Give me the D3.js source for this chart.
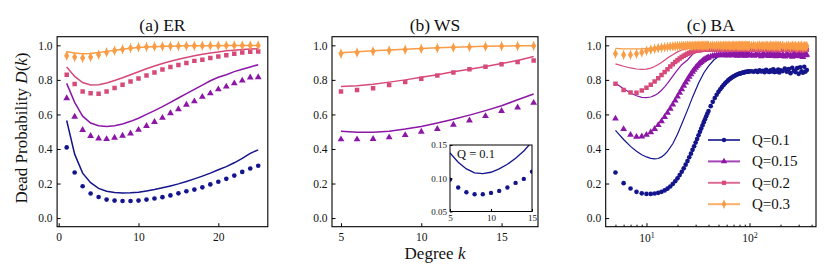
<!DOCTYPE html>
<html>
<head>
<meta charset="utf-8">
<script src="https://cdn.jsdelivr.net/npm/d3@7"></script>
<style>
  body { margin: 0; background: #fff; }
  text { font-family: "Liberation Serif", "DejaVu Serif", serif; fill: #111; }
</style>
</head>
<body>
<svg id="chart" width="830" height="277"></svg>
<script>
// ---- data ----
const qLabels = ["Q=0.1", "Q=0.15", "Q=0.2", "Q=0.3"];
const colors = ["#14148c", "#8c16a6", "#d6497a", "#f99c45"];
const yTicks = [0, 0.2, 0.4, 0.6, 0.8, 1.0];
const serif = '"Liberation Serif", "DejaVu Serif", serif';

// (a) ER
const erK = [1, 2, 3, 4, 5, 6, 7, 8, 9, 10, 11, 12, 13, 14, 15, 16, 17, 18, 19, 20, 21, 22, 23, 24, 25];
const erSimQ1 = [0.409, 0.264, 0.184, 0.142, 0.122, 0.107, 0.101, 0.099, 0.099, 0.101, 0.107, 0.113, 0.121, 0.131, 0.143, 0.155, 0.165, 0.178, 0.195, 0.21, 0.227, 0.246, 0.267, 0.287, 0.303];
const erThQ1 = [0.565, 0.37, 0.26, 0.205, 0.172, 0.155, 0.148, 0.145, 0.146, 0.15, 0.157, 0.165, 0.175, 0.186, 0.198, 0.212, 0.227, 0.243, 0.26, 0.28, 0.298, 0.32, 0.345, 0.375, 0.395];
const erSimQ15 = [0.694, 0.587, 0.51, 0.475, 0.461, 0.457, 0.465, 0.477, 0.49, 0.511, 0.533, 0.556, 0.58, 0.607, 0.63, 0.656, 0.676, 0.702, 0.722, 0.745, 0.761, 0.78, 0.796, 0.814, 0.815];
const erThQ15 = [0.78, 0.67, 0.59, 0.55, 0.535, 0.53, 0.535, 0.545, 0.56, 0.578, 0.6, 0.622, 0.645, 0.67, 0.695, 0.72, 0.745, 0.77, 0.795, 0.815, 0.83, 0.848, 0.862, 0.875, 0.888];
const erSimQ2 = [0.83, 0.776, 0.733, 0.723, 0.72, 0.733, 0.753, 0.772, 0.79, 0.808, 0.826, 0.843, 0.86, 0.875, 0.886, 0.898, 0.91, 0.917, 0.927, 0.936, 0.943, 0.951, 0.958, 0.963, 0.964];
const erThQ2 = [0.875, 0.82, 0.785, 0.77, 0.772, 0.782, 0.796, 0.812, 0.83, 0.847, 0.864, 0.88, 0.895, 0.908, 0.92, 0.93, 0.94, 0.948, 0.955, 0.962, 0.968, 0.972, 0.976, 0.979, 0.98];
const erSimQ3 = [0.94, 0.932, 0.927, 0.932, 0.946, 0.959, 0.969, 0.977, 0.984, 0.989, 0.991, 0.993, 0.994, 0.995, 0.996, 0.997, 0.997, 0.998, 0.998, 0.998, 0.999, 0.999, 0.999, 0.999, 0.999];
const erThQ3 = [0.963, 0.955, 0.951, 0.953, 0.958, 0.965, 0.972, 0.978, 0.983, 0.987, 0.99, 0.992, 0.994, 0.995, 0.996, 0.997, 0.997, 0.998, 0.998, 0.998, 0.999, 0.999, 0.999, 0.999, 0.999];

// (b) WS
const wsK = [5, 6, 7, 8, 9, 10, 11, 12, 13, 14, 15, 16, 17];
const wsSimQ15 = [0.456, 0.456, 0.458, 0.467, 0.48, 0.5, 0.516, 0.54, 0.565, 0.59, 0.62, 0.64, 0.667];
const wsThQ15 = [0.503, 0.497, 0.497, 0.503, 0.515, 0.53, 0.55, 0.572, 0.596, 0.622, 0.65, 0.685, 0.718];
const wsSimQ2 = [0.733, 0.742, 0.752, 0.771, 0.787, 0.806, 0.826, 0.843, 0.862, 0.876, 0.891, 0.903, 0.912];
const wsThQ2 = [0.762, 0.766, 0.775, 0.787, 0.8, 0.815, 0.83, 0.847, 0.862, 0.878, 0.895, 0.912, 0.935];
const wsSimQ3 = [0.952, 0.958, 0.965, 0.97, 0.975, 0.98, 0.984, 0.987, 0.99, 0.993, 0.995, 0.996, 0.997];
const wsThQ3 = [0.957, 0.963, 0.968, 0.973, 0.978, 0.982, 0.986, 0.989, 0.992, 0.994, 0.996, 0.997, 0.998];
// inset, Q = 0.1
const insetK = [5, 6, 7, 8, 9, 10, 11, 12, 13, 14, 15];
const insetSim = [0.098, 0.086, 0.079, 0.076, 0.076, 0.078, 0.081, 0.086, 0.093, 0.099, 0.11];
const insetTh = [0.138, 0.124, 0.114, 0.108, 0.107, 0.109, 0.114, 0.121, 0.13, 0.141, 0.155];

// (c) BA
const baK = [5, 6, 7, 8, 9, 10, 11, 12, 13, 14, 15, 16, 17, 18, 19, 20, 21, 22, 23, 24, 25, 26, 27, 28, 29, 30, 31, 32, 33, 34, 35, 36, 37, 38, 39, 40,
  42, 44, 46, 48, 50, 52, 54, 56, 58, 60, 62, 64, 66, 68, 70, 72, 74, 76, 78, 80, 82, 84, 86, 88, 90, 92, 94, 96, 98, 100,
  105, 110, 115, 120, 125, 130, 135, 140, 145, 150, 155, 160, 165, 170, 175, 180, 185, 190, 195, 200,
  210, 220, 230, 240, 250, 260, 270, 280, 290, 300, 310, 320, 330, 340, 350, 360];
const baSimQ1 = [0.264, 0.202, 0.171, 0.152, 0.143, 0.14, 0.14, 0.142, 0.146, 0.152, 0.16, 0.17, 0.183, 0.197, 0.213, 0.23, 0.249, 0.268, 0.288, 0.309, 0.33, 0.352, 0.373, 0.395, 0.416, 0.437, 0.458, 0.479, 0.499, 0.518, 0.537, 0.555, 0.572, 0.589, 0.605, 0.62,
  0.648, 0.673, 0.695, 0.714, 0.731, 0.746, 0.759, 0.77, 0.78, 0.789, 0.797, 0.804, 0.81, 0.815, 0.82, 0.824, 0.828, 0.831, 0.834, 0.836, 0.838, 0.84, 0.842, 0.843, 0.845, 0.846, 0.847, 0.848, 0.848, 0.849,
  0.85, 0.847, 0.853, 0.846, 0.855, 0.849, 0.852, 0.844, 0.858, 0.85, 0.846, 0.856, 0.849, 0.861, 0.845, 0.852, 0.848, 0.859, 0.843, 0.855,
  0.851, 0.866, 0.847, 0.862, 0.839, 0.87, 0.852, 0.845, 0.868, 0.835, 0.873, 0.85, 0.842, 0.876, 0.848, 0.857];
const baSimQ15 = [0.576, 0.515, 0.482, 0.47, 0.472, 0.482, 0.497, 0.516, 0.538, 0.561, 0.585, 0.609, 0.633, 0.657, 0.68, 0.703, 0.725, 0.746, 0.766, 0.785, 0.802, 0.818, 0.833, 0.847, 0.859, 0.87, 0.88, 0.889, 0.897, 0.904, 0.91, 0.915, 0.92, 0.924, 0.927, 0.93,
  0.935, 0.938, 0.94, 0.942, 0.943, 0.944, 0.942, 0.946, 0.943, 0.945, 0.941, 0.947, 0.944, 0.942, 0.946, 0.943, 0.948, 0.94, 0.945, 0.943, 0.947, 0.941, 0.946, 0.944, 0.939, 0.948, 0.943, 0.945, 0.941, 0.946,
  0.944, 0.939, 0.948, 0.942, 0.946, 0.937, 0.95, 0.943, 0.941, 0.947, 0.938, 0.952, 0.944, 0.94, 0.946, 0.936, 0.949, 0.942, 0.945, 0.938,
  0.947, 0.935, 0.951, 0.94, 0.944, 0.933, 0.953, 0.941, 0.938, 0.955, 0.936, 0.946, 0.932, 0.958, 0.942, 0.945];
const baSimQ2 = [0.778, 0.742, 0.727, 0.726, 0.738, 0.754, 0.772, 0.79, 0.809, 0.828, 0.846, 0.862, 0.877, 0.891, 0.903, 0.914, 0.924, 0.932, 0.94, 0.946, 0.951, 0.956, 0.96, 0.963, 0.966, 0.968, 0.97, 0.971, 0.972, 0.973, 0.974, 0.974, 0.975, 0.975, 0.975, 0.976,
  0.976, 0.977, 0.975, 0.978, 0.976, 0.974, 0.977, 0.976, 0.978, 0.975, 0.977, 0.976, 0.974, 0.978, 0.976, 0.977, 0.975, 0.979, 0.976, 0.974, 0.978, 0.976, 0.977, 0.975, 0.979, 0.976, 0.974, 0.978, 0.977, 0.975,
  0.977, 0.974, 0.979, 0.976, 0.973, 0.98, 0.976, 0.974, 0.978, 0.975, 0.981, 0.973, 0.977, 0.979, 0.974, 0.976, 0.98, 0.972, 0.978, 0.975,
  0.979, 0.973, 0.977, 0.981, 0.971, 0.976, 0.98, 0.974, 0.972, 0.982, 0.975, 0.978, 0.97, 0.98, 0.976, 0.974];
const baSimQ3 = [0.952, 0.945, 0.945, 0.951, 0.959, 0.968, 0.975, 0.98, 0.984, 0.987, 0.989, 0.991, 0.993, 0.994, 0.995, 0.996, 0.996, 0.997, 0.997, 0.997, 0.998, 0.998, 0.998, 0.998, 0.998, 0.998, 0.999, 0.998, 0.999, 0.998, 0.999, 0.998, 0.999, 0.999, 0.998, 0.999,
  0.998, 0.999, 0.997, 0.999, 0.998, 0.999, 0.997, 0.998, 0.999, 0.997, 0.999, 0.998, 0.996, 0.999, 0.998, 0.997, 0.999, 0.998, 0.996, 0.999, 0.997, 0.998, 0.999, 0.996, 0.998, 0.999, 0.997, 0.998, 0.996, 0.999,
  0.997, 0.999, 0.995, 0.998, 0.999, 0.996, 0.998, 0.994, 0.999, 0.997, 0.995, 0.999, 0.996, 0.998, 0.993, 0.999, 0.996, 0.998, 0.994, 0.997,
  0.999, 0.993, 0.997, 0.998, 0.992, 0.999, 0.995, 0.997, 0.991, 0.998, 0.994, 0.999, 0.99, 0.997, 0.993, 0.996];
// theory curves for (c)
const baThK = [5, 6, 7, 8, 9, 10, 11, 12, 13, 14, 15, 16, 18, 20, 22, 25, 28, 32, 36, 40, 45, 50, 54];
const baThQ1 = [0.508, 0.455, 0.415, 0.387, 0.367, 0.354, 0.346, 0.343, 0.345, 0.354, 0.368, 0.386, 0.43, 0.485, 0.545, 0.625, 0.7, 0.78, 0.84, 0.88, 0.915, 0.935, 0.945];
const baThQ15 = [0.78, 0.748, 0.724, 0.708, 0.699, 0.697, 0.701, 0.71, 0.723, 0.74, 0.76, 0.78, 0.822, 0.858, 0.888, 0.915, 0.948, 0.97, 0.977, 0.98];
const baThQ2 = [0.893, 0.879, 0.869, 0.863, 0.861, 0.862, 0.868, 0.877, 0.889, 0.901, 0.914, 0.926, 0.946, 0.962, 0.973, 0.982, 0.987, 0.99, 0.991, 0.992];
const baThQ3 = [0.982, 0.98, 0.979, 0.979, 0.98, 0.982, 0.984, 0.986, 0.988, 0.99, 0.991, 0.992, 0.994, 0.996, 0.997, 0.998, 0.999, 0.999, 1.0, 1.0];

// ---- layout ----
const svg = d3.select("#chart");
const frameTop = 36.7, frameBottom = 226.7;
const y = d3.scaleLinear().domain([-0.05, 1.05]).range([frameBottom, frameTop]);
const fmt1 = d3.format(".1f");

function markerPath(i, s = 1) {
  if (i === 0) return d3.symbol(d3.symbolCircle, 17 * s)();
  if (i === 1) return d3.symbol(d3.symbolTriangle, 20 * s)();
  if (i === 2) return d3.symbol(d3.symbolSquare, 20 * s)();
  return `M0,${-3.6 * s}L${2.1 * s},0L0,${3.6 * s}L${-2.1 * s},0Z M0,${-4.8 * s}V${4.8 * s}`;
}

function zip(ks, vs) {
  return vs.map((v, i) => ({ k: ks[i], v: v }));
}

function styleAxis(g, size) {
  g.attr("font-family", serif);
  g.select(".domain").remove();
  g.selectAll("text").attr("font-family", serif).attr("font-size", size);
}

let clipId = 0;
function panel(x, title, series, lineWidth) {
  const [x0, x1] = x.range();
  const g = svg.append("g");
  const id = "clip" + clipId++;
  g.append("clipPath").attr("id", id).append("rect")
    .attr("x", x0).attr("y", frameTop).attr("width", x1 - x0).attr("height", frameBottom - frameTop);
  const plot = g.append("g").attr("clip-path", `url(#${id})`);

  const line = d3.line().x((d) => x(d.k)).y((d) => y(d.v));
  series.forEach((s) => {
    if (!s.th) return;
    plot.append("path").datum(zip(s.thK, s.th))
      .attr("d", line).attr("fill", "none")
      .attr("stroke", colors[s.q]).attr("stroke-width", lineWidth);
  });
  series.forEach((s) => {
    plot.append("g").selectAll("path").data(zip(s.simK, s.sim)).join("path")
      .attr("transform", (d) => `translate(${x(d.k)},${y(d.v)})`)
      .attr("d", markerPath(s.q))
      .attr("fill", colors[s.q])
      .attr("stroke", s.q === 3 ? colors[s.q] : "none")
      .attr("stroke-width", 0.9);
  });

  const ya = g.append("g").attr("transform", `translate(${x0},0)`)
    .call(d3.axisLeft(y).tickValues(yTicks).tickFormat(fmt1).tickSize(-3.5).tickPadding(4.5));
  styleAxis(ya, 11.5);

  g.append("rect").attr("x", x0).attr("y", frameTop)
    .attr("width", x1 - x0).attr("height", frameBottom - frameTop)
    .attr("fill", "none").attr("stroke", "#000").attr("stroke-width", 1.1);

  g.append("text").attr("x", (x0 + x1) / 2).attr("y", 30.5)
    .attr("text-anchor", "middle").attr("font-size", 17.5).text(title);
  return g;
}

// (a) ER
const xA = d3.scaleLinear().domain([-0.2, 26.2]).range([57.1, 267.8]);
const gA = panel(xA, "(a) ER", [
  { q: 0, simK: erK, sim: erSimQ1, thK: erK, th: erThQ1 },
  { q: 1, simK: erK, sim: erSimQ15, thK: erK, th: erThQ15 },
  { q: 2, simK: erK, sim: erSimQ2, thK: erK, th: erThQ2 },
  { q: 3, simK: erK, sim: erSimQ3, thK: erK, th: erThQ3 },
], 1.5);
const xaA = gA.append("g").attr("transform", `translate(0,${frameBottom})`)
  .call(d3.axisBottom(xA).tickValues([0, 10, 20]).tickSize(-3.5).tickPadding(6));
styleAxis(xaA, 11.5);

// (b) WS
const xB = d3.scaleLinear().domain([4.44, 17.27]).range([332, 538]);
const gB = panel(xB, "(b) WS", [
  { q: 1, simK: wsK, sim: wsSimQ15, thK: wsK, th: wsThQ15 },
  { q: 2, simK: wsK, sim: wsSimQ2, thK: wsK, th: wsThQ2 },
  { q: 3, simK: wsK, sim: wsSimQ3, thK: wsK, th: wsThQ3 },
], 1.5);
const xaB = gB.append("g").attr("transform", `translate(0,${frameBottom})`)
  .call(d3.axisBottom(xB).tickValues([5, 10, 15]).tickSize(-3.5).tickPadding(6));
styleAxis(xaB, 11.5);

// inset in (b)
const ix = d3.scaleLinear().domain([5, 15]).range([450, 532]);
const iy = d3.scaleLinear().domain([0.05, 0.15]).range([211.5, 145]);
const gI = svg.append("g");
gI.append("rect").attr("x", 450).attr("y", 145).attr("width", 82).attr("height", 66.5).attr("fill", "#fff");
gI.append("clipPath").attr("id", "clipInset").append("rect")
  .attr("x", 450).attr("y", 145).attr("width", 82).attr("height", 66.5);
const iplot = gI.append("g").attr("clip-path", "url(#clipInset)");
iplot.append("path").datum(zip(insetK, insetTh))
  .attr("d", d3.line().x((d) => ix(d.k)).y((d) => iy(d.v)))
  .attr("fill", "none").attr("stroke", colors[0]).attr("stroke-width", 1.3);
iplot.selectAll("circle").data(zip(insetK, insetSim)).join("circle")
  .attr("cx", (d) => ix(d.k)).attr("cy", (d) => iy(d.v)).attr("r", 2.2).attr("fill", colors[0]);
const iya = gI.append("g").attr("transform", "translate(450,0)")
  .call(d3.axisLeft(iy).tickValues([0.05, 0.1, 0.15]).tickFormat(d3.format(".2f")).tickSize(-2.5).tickPadding(3));
styleAxis(iya, 9);
const ixa = gI.append("g").attr("transform", "translate(0,211.5)")
  .call(d3.axisBottom(ix).tickValues([5, 10, 15]).tickSize(-2.5).tickPadding(3));
styleAxis(ixa, 9);
gI.append("rect").attr("x", 450).attr("y", 145).attr("width", 82).attr("height", 66.5)
  .attr("fill", "none").attr("stroke", "#000").attr("stroke-width", 1);
gI.append("text").attr("x", 457).attr("y", 157.5).attr("font-size", 12.5).text("Q = 0.1");

// (c) BA
const xC = d3.scaleLog().domain([4.02, 442]).range([605.7, 816]);
const gC = panel(xC, "(c) BA", [
  { q: 0, simK: baK, sim: baSimQ1, thK: baThK, th: baThQ1 },
  { q: 1, simK: baK, sim: baSimQ15, thK: baThK, th: baThQ15 },
  { q: 2, simK: baK, sim: baSimQ2, thK: baThK, th: baThQ2 },
  { q: 3, simK: baK, sim: baSimQ3, thK: baThK, th: baThQ3 },
], 1.2);
const minorC = [5, 6, 7, 8, 9, 20, 30, 40, 50, 60, 70, 80, 90, 200, 300, 400];
const xcMinor = gC.append("g").attr("transform", `translate(0,${frameBottom})`)
  .call(d3.axisBottom(xC).tickValues(minorC).tickFormat("").tickSize(-2));
xcMinor.select(".domain").remove();
const xaC = gC.append("g").attr("transform", `translate(0,${frameBottom})`)
  .call(d3.axisBottom(xC).tickValues([10, 100]).tickSize(-3.5).tickPadding(7));
styleAxis(xaC, 11.5);
xaC.selectAll("text")
  .each(function (d) {
    const t = d3.select(this);
    t.text("10");
    t.append("tspan").attr("dy", "-0.45em").attr("font-size", 8).text(Math.round(Math.log10(d)));
  });

// legend in (c)
const legend = gC.append("g");
qLabels.forEach((lab, i) => {
  const ly = 140 + i * 21.4;
  legend.append("line").attr("x1", 708).attr("x2", 740).attr("y1", ly).attr("y2", ly)
    .attr("stroke", colors[i]).attr("stroke-width", 2).attr("stroke-opacity", 0.8);
  legend.append("path").attr("transform", `translate(724,${ly})`).attr("d", markerPath(i, 0.9))
    .attr("fill", colors[i]).attr("stroke", i === 3 ? colors[i] : "none").attr("stroke-width", 0.9);
  legend.append("text").attr("x", 752).attr("y", ly + 5).attr("font-size", 15).text(lab);
});

// axis titles
svg.append("text").attr("transform", "translate(27,128) rotate(-90)")
  .attr("text-anchor", "middle").attr("font-size", 17)
  .html('Dead Probability <tspan font-style="italic">D</tspan>(<tspan font-style="italic">k</tspan>)');
svg.append("text").attr("x", 435).attr("y", 259).attr("text-anchor", "middle").attr("font-size", 17)
  .html('Degree <tspan font-style="italic">k</tspan>');
</script>
</body>
</html>
